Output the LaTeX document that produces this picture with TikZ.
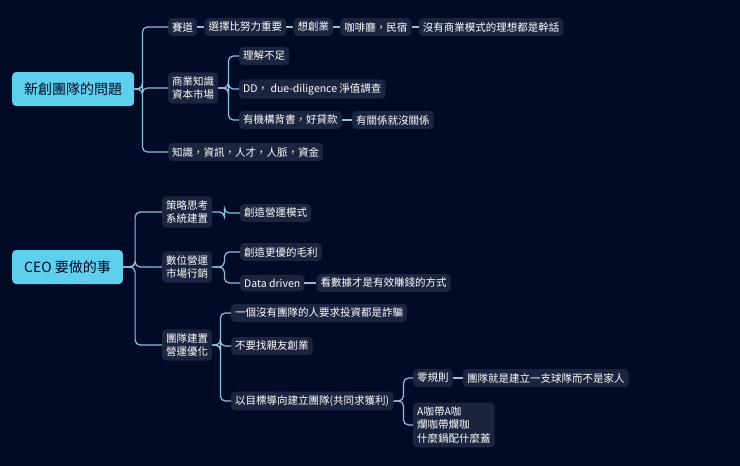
\documentclass[tikz,border=0pt]{standalone}
\usepackage{fontspec}
\setmainfont{Noto Sans CJK TC}
\usetikzlibrary{positioning}
\definecolor{bgdark}{HTML}{020B26}
\definecolor{boxdark}{HTML}{1C2540}
\definecolor{rootcyan}{HTML}{5ED0EE}
\definecolor{linkblue}{HTML}{8CC3DA}
\newcommand{\branch}[3]{\draw[link] (#1.east) -- ++(#3,0) |- (#2.west);}
\tikzset{
    rootbox/.style = {
        fill=rootcyan, rounded corners=4pt, align=center,
        text=bgdark, inner xsep=12pt,
        minimum height=34pt,
        font=\fontsize{14}{16}\selectfont
    },
    topic/.style = {
        fill=boxdark, rounded corners=4pt, align=left,
        text=white, inner xsep=4pt, inner ysep=4pt,
        font=\fontsize{10.5}{13.5}\selectfont
    },
    link/.style = {
        draw=linkblue, line width=1.2pt, rounded corners=5pt
    }
}
\begin{document}
\begin{tikzpicture}[x=1pt,y=-1pt]
\fill[bgdark] (0,0) rectangle (740,466);
\useasboundingbox (0,0) rectangle (740,466);

\node[rootbox, anchor=west] (Startup) at (12,89) {新創團隊的問題};
\node[rootbox, anchor=west] (CEO) at (12,267) {CEO 要做的事};

\node[topic, anchor=west] (Track) at (168,27) {賽道};
\node[topic, right=7pt of Track] (Choice) {選擇比努力重要};
\node[topic, right=7pt of Choice] (Want) {想創業};
\node[topic, right=7pt of Want] (Cafe) {咖啡廳，民宿};
\node[topic, right=7pt of Cafe] (Model) {沒有商業模式的理想都是幹話};
\node[topic, anchor=west] (Biz) at (168,88) {商業知識\\資本市場};
\node[topic, anchor=west] (Lack) at (239,56) {理解不足};
\node[topic, anchor=west] (DD) at (239,89) {DD， due-diligence 淨值調查};
\node[topic, anchor=west] (Loan) at (239,120) {有機構背書，好貸款};
\node[topic, right=10pt of Loan] (Rel) {有關係就沒關係};
\node[topic, anchor=west] (Know) at (168,152) {知識，資訊，人才，人脈，資金};

\node[topic, anchor=west] (Strat) at (162,212) {策略思考\\系統建置};
\node[topic, anchor=west] (Ops) at (240,213) {創造營運模式};
\node[topic, anchor=west] (Digi) at (162,267) {數位營運\\市場行銷};
\node[topic, anchor=west] (Margin) at (240,252) {創造更優的毛利};
\node[topic, anchor=west] (Data) at (240,283) {Data driven};
\node[topic, right=12pt of Data] (Look) {看數據才是有效賺錢的方式};
\node[topic, anchor=west] (Team) at (162,345) {團隊建置\\營運優化};
\node[topic, anchor=west] (Fraud) at (231,313) {一個沒有團隊的人要求投資都是詐騙};
\node[topic, anchor=west] (Friends) at (231,346) {不要找親友創業};
\node[topic, anchor=west] (Goal) at (231,401) {以目標導向建立團隊(共同求獲利)};
\node[topic, anchor=west] (Zero) at (413,378) {零規則};
\node[topic, right=10pt of Zero] (Squad) {團隊就是建立一支球隊而不是家人};
\node[topic, anchor=west] (ACup) at (413,425) {A咖帶A咖\\爛咖帶爛咖\\什麼鍋配什麼蓋};

% first tree
\foreach \c in {Track,Biz,Know} {\branch{Startup}{\c}{8}}
\draw[link] (Track) -- (Choice) (Choice) -- (Want) (Want) -- (Cafe) (Cafe) -- (Model);
\foreach \c in {Lack,DD,Loan} {\branch{Biz}{\c}{10}}
\draw[link] (Loan) -- (Rel);

% second tree
\foreach \c in {Strat,Digi,Team} {\branch{CEO}{\c}{12}}
\branch{Strat}{Ops}{12}
\foreach \c in {Margin,Data} {\branch{Digi}{\c}{12}}
\draw[link] (Data) -- (Look);
\foreach \c in {Fraud,Friends,Goal} {\branch{Team}{\c}{8}}
\foreach \c in {Zero,ACup} {\branch{Goal}{\c}{10}}
\draw[link] (Zero) -- (Squad);
\end{tikzpicture}
\end{document}
